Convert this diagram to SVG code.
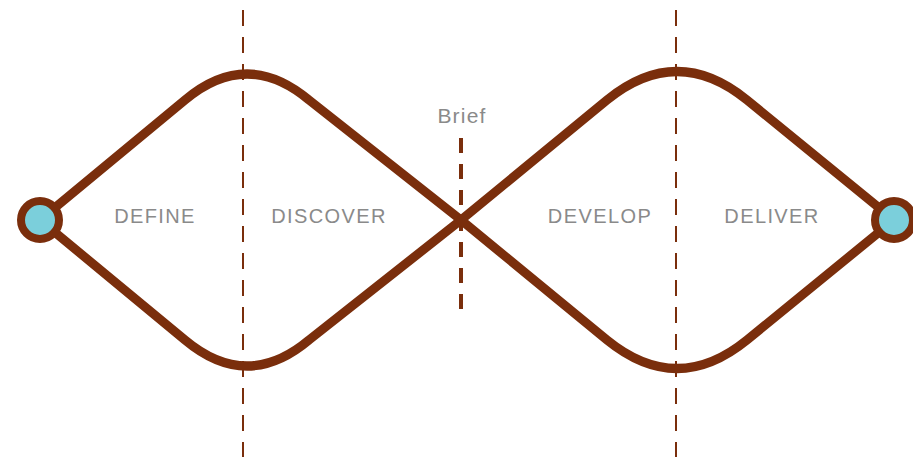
<svg xmlns="http://www.w3.org/2000/svg" width="913" height="457" viewBox="0 0 913 457">
<style>
.lens{fill:none;stroke:#7a2e0c;stroke-width:9;stroke-linejoin:round}
.guide{stroke:#7a2e0c;stroke-width:2;stroke-dasharray:16 11;fill:none}
.brief{stroke:#7a2e0c;stroke-width:4;stroke-dasharray:15 11;fill:none}
.end{fill:#7bcfdb;stroke:#7a2e0c;stroke-width:8}
.lbl{font-family:"Liberation Sans",Arial,sans-serif;font-size:20px;fill:#8a8a8a;text-anchor:middle;letter-spacing:1.4px}
</style>
<rect width="913" height="457" fill="#ffffff"/>
<g id="guides">
<line class="guide" x1="243" y1="10" x2="243" y2="457"/>
<line class="guide" x1="676" y1="10" x2="676" y2="457"/>
<line class="brief" x1="461" y1="138" x2="461" y2="312"/>
</g>
<g id="connectors">
<path class="lens" d="M40,220 L185,100 Q247,48 309,100 L461,220 L309,340 Q247,392 185,340 Z"/>
<path class="lens" d="M461,220 L607,100 Q677,43 747,100 L894,220 L747,340 Q677,397 607,340 Z"/>
</g>
<g id="start"><circle class="end" cx="40" cy="220" r="19"/></g>
<g id="finish"><circle class="end" cx="894" cy="220" r="19"/></g>
<g id="labels">
<text class="lbl" x="155" y="223">DEFINE</text>
<text class="lbl" x="329" y="223">DISCOVER</text>
<text class="lbl" x="600" y="223">DEVELOP</text>
<text class="lbl" x="772" y="223">DELIVER</text>
<text class="lbl" x="462" y="123" style="font-size:21px;letter-spacing:1.2px">Brief</text>
</g>
</svg>
